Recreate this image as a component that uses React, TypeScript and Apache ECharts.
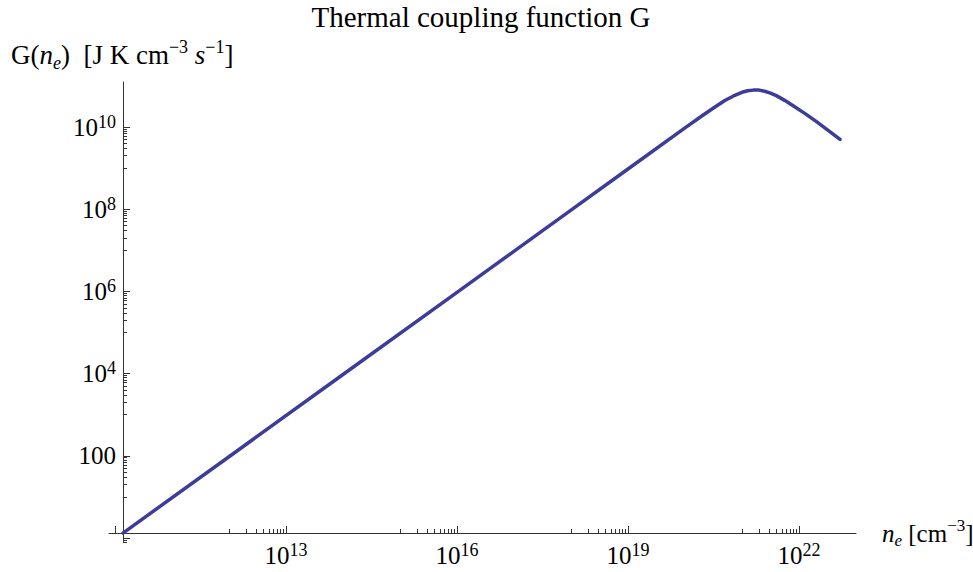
import React, { useEffect, useRef } from 'react';
import * as echarts from 'echarts';

// Electron density n_e [cm^-3] and thermal coupling G [J K cm^-3 s^-1]
const neValues = [1.38e10, 1e12, 1e14, 1e16, 1e18, 1e19, 1e20, 2e20, 3.16e20, 5e20, 7.1e20, 1e21, 1.26e21, 1.58e21, 2e21, 2.5e21, 3.16e21, 4e21, 5.6e21, 7.9e21, 1.26e22, 2e22, 3.16e22, 5.25e22];
const gValues = [1.32, 95, 9.5e3, 9.5e5, 9.5e7, 9.5e8, 9.5e9, 1.88e10, 2.9e10, 4.4e10, 5.7e10, 7.0e10, 7.6e10, 7.9e10, 7.9e10, 7.4e10, 6.7e10, 5.8e10, 4.45e10, 3.3e10, 2.15e10, 1.37e10, 8.5e9, 5.0e9];

// Tick exponents (powers of ten)
const xMajorExps = [10, 13, 16, 19, 22];
const xLabelExps = [13, 16, 19, 22];
const yMajorExps = [0, 2, 4, 6, 8, 10];
const yLabelExps = [2, 4, 6, 8, 10];

const X_MIN = 9.895;
const X_MAX = 23.0;
const Y_MIN = -0.097;
const Y_MAX = 11.095;

const FONT = '"Liberation Serif", "Times New Roman", Times, serif';
const AXIS = '#333333';
const LINE = '#3d3d99';

function minorTicks(majors: number[], lo: number, hi: number): number[] {
  const out: number[] = [];
  majors.forEach((k) => {
    for (let j = 1; j <= 9; j++) {
      const v = k - 1 + Math.log10(j);
      if (v >= lo && v <= hi) out.push(v);
    }
  });
  return out;
}

const tickRich = {
  b: { fontFamily: FONT, fontSize: 25, lineHeight: 29, color: '#000' },
  s: { fontFamily: FONT, fontSize: 18, lineHeight: 18, verticalAlign: 'top', color: '#000' },
};

function tickLabel(v: number): string {
  const k = Math.round(v);
  if (k === 2) return '{b|100}';
  return `{b|10}{s|${k}}`;
}

function tok(size: number, italic: boolean, va?: string) {
  const t: any = { fontFamily: FONT, fontSize: size, fontStyle: italic ? 'italic' : 'normal', lineHeight: size, fill: '#000' };
  if (va) t.verticalAlign = va;
  return t;
}

function nameRich(size: number, small: number) {
  return {
    n: { ...tok(size, false), lineHeight: size + 7 },
    i: { ...tok(size, true), lineHeight: size + 7 },
    sub: tok(small, true, 'bottom'),
    sup: tok(small, false, 'top'),
  };
}

export default function App() {
  const ref = useRef<HTMLDivElement>(null);

  useEffect(() => {
    if (!ref.current) return;
    const chart = echarts.init(ref.current, undefined, { renderer: 'svg' });
    const data = neValues.map((n, i) => [Math.log10(n), Math.log10(gValues[i])]);

    const xMinor = minorTicks(xLabelExps, X_MIN, X_MAX);
    const yMinor = minorTicks(yMajorExps, Y_MIN, Y_MAX);

    const option: any = {
      animation: false,
      grid: { left: 109, right: 117, top: 82, bottom: 30, containLabel: false, outerBoundsMode: 'none' },
      xAxis: [
        {
          type: 'value', min: X_MIN, max: X_MAX, position: 'bottom', offset: -9,
          axisLine: { show: true, onZero: false, lineStyle: { color: AXIS, width: 1 } },
          axisTick: { show: true, inside: true, length: 7, customValues: xMajorExps, lineStyle: { color: AXIS, width: 1 } },
          axisLabel: { show: true, customValues: xLabelExps, formatter: tickLabel, rich: tickRich, margin: 8, color: '#000', fontFamily: FONT, fontSize: 25 },
          splitLine: { show: false },
        },
        {
          type: 'value', min: X_MIN, max: X_MAX, position: 'bottom', offset: -9,
          axisLine: { show: false, onZero: false },
          axisTick: { show: true, inside: true, length: 4, customValues: xMinor, lineStyle: { color: AXIS, width: 1 } },
          axisLabel: { show: false },
          splitLine: { show: false },
        },
      ],
      yAxis: [
        {
          type: 'value', min: Y_MIN, max: Y_MAX, position: 'left', offset: -14,
          axisLine: { show: true, onZero: false, lineStyle: { color: AXIS, width: 1 } },
          axisTick: { show: true, inside: true, length: 7, customValues: yMajorExps, lineStyle: { color: AXIS, width: 1 } },
          axisLabel: { show: true, customValues: yLabelExps, formatter: tickLabel, rich: tickRich, margin: 7, color: '#000', fontFamily: FONT, fontSize: 25 },
          splitLine: { show: false },
        },
        {
          type: 'value', min: Y_MIN, max: Y_MAX, position: 'left', offset: -14,
          axisLine: { show: false, onZero: false },
          axisTick: { show: true, inside: true, length: 4, customValues: yMinor, lineStyle: { color: AXIS, width: 1 } },
          axisLabel: { show: false },
          splitLine: { show: false },
        },
      ],
      series: [
        {
          type: 'line', xAxisIndex: 0, yAxisIndex: 0, data,
          showSymbol: false, symbol: 'none', smooth: false, clip: false,
          lineStyle: { color: LINE, width: 3.5, cap: 'round', join: 'round' },
        },
      ],
      graphic: [
        {
          type: 'text', x: 481, y: 17,
          style: { text: 'Thermal coupling function G', fontFamily: FONT, fontSize: 29, fill: '#000', align: 'center', verticalAlign: 'middle' },
        },
        {
          type: 'text', x: 11, y: 55,
          style: {
            text: '{n|G(}{i|n}{sub|e}{n|)  [J K cm}{sup|−3}{n| }{i|s}{sup|−1}{n|]}',
            fontFamily: FONT, fontSize: 27, lineHeight: 34, fill: '#000', align: 'left', verticalAlign: 'middle', rich: nameRich(27, 18),
          },
        },
        {
          type: 'text', x: 882, y: 533,
          style: {
            text: '{i|n}{sub|e}{n| [cm}{sup|−3}{n|]}',
            fontFamily: FONT, fontSize: 25, lineHeight: 32, fill: '#000', align: 'left', verticalAlign: 'middle', rich: nameRich(25, 17),
          },
        },
      ],
    };
    chart.setOption(option);
    return () => chart.dispose();
  }, []);

  return <div ref={ref} style={{ position: 'fixed', left: 0, top: 0, width: 973, height: 572, background: '#fff' }} />;
}
